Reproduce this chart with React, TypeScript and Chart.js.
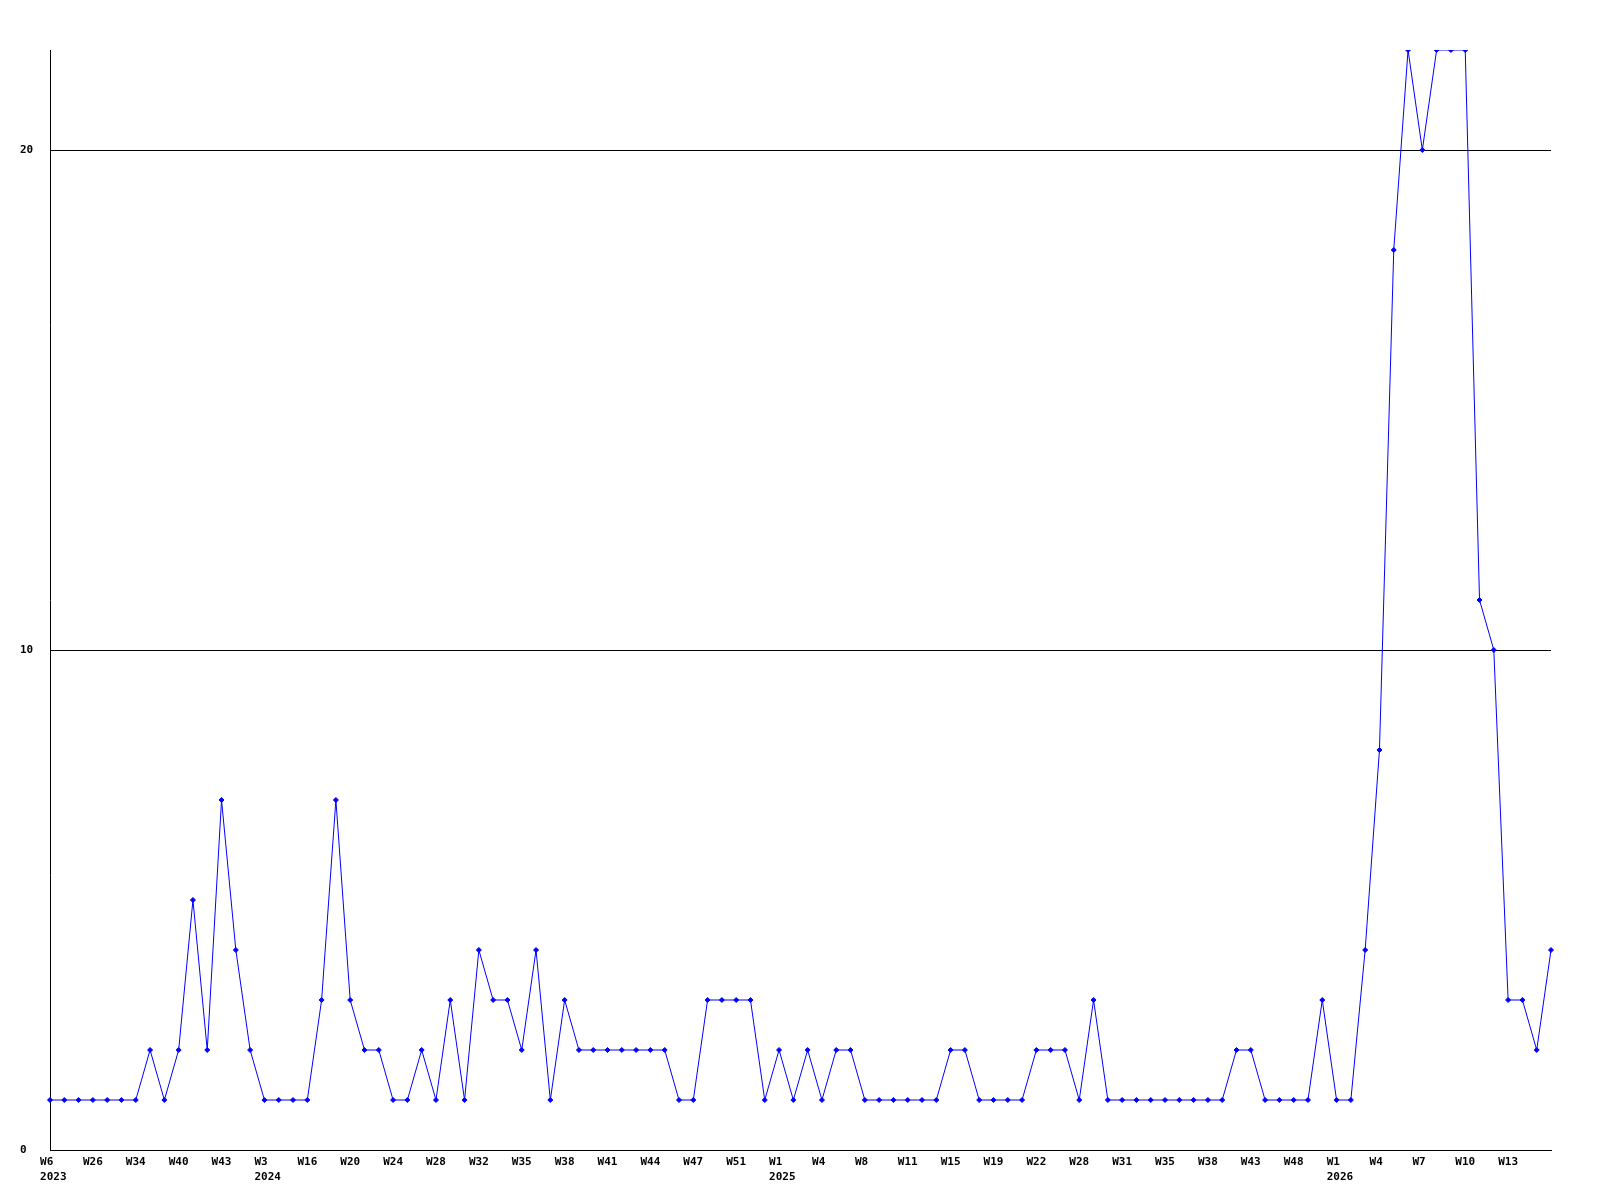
import React, { useEffect, useRef } from 'react';
import { Chart, registerables } from 'chart.js';

Chart.register(...registerables);

// Weekly counts, one per point (106 points)
const weeklyCounts = [
  1, 1, 1, 1, 1, 1, 1, 2, 1, 2,
  5, 2, 7, 4, 2, 1, 1, 1, 1, 3,
  7, 3, 2, 2, 1, 1, 2, 1, 3, 1,
  4, 3, 3, 2, 4, 1, 3, 2, 2, 2,
  2, 2, 2, 2, 1, 1, 3, 3, 3, 3,
  1, 2, 1, 2, 1, 2, 2, 1, 1, 1,
  1, 1, 1, 2, 2, 1, 1, 1, 1, 2,
  2, 2, 1, 3, 1, 1, 1, 1, 1, 1,
  1, 1, 1, 2, 2, 1, 1, 1, 1, 3,
  1, 1, 4, 8, 18, 22, 20, 22, 22, 22,
  11, 10, 3, 3, 2, 4,
];

// Tick labels shown on every 3rd point
const TICK_EVERY = 3;
const tickWeeks = [
  'W6', 'W26', 'W34', 'W40', 'W43', 'W3', 'W16', 'W20', 'W24', 'W28',
  'W32', 'W35', 'W38', 'W41', 'W44', 'W47', 'W51', 'W1', 'W4', 'W8',
  'W11', 'W15', 'W19', 'W22', 'W28', 'W31', 'W35', 'W38', 'W43', 'W48',
  'W1', 'W4', 'W7', 'W10', 'W13',
];
const tickYears = [
  '2023', '', '', '', '', '2024', '', '', '', '',
  '', '', '', '', '', '', '', '2025', '', '',
  '', '', '', '', '', '', '', '', '', '',
  '2026', '', '', '', '',
];

const Y_MAX = 22;
const Y_STEP = 10;

const tickFont = {
  family: '"DejaVu Sans Mono", "Liberation Mono", monospace',
  weight: 'bold' as const,
  size: 11,
  lineHeight: '15px',
};

export default function App() {
  const ref = useRef<HTMLCanvasElement>(null);

  useEffect(() => {
    if (!ref.current) return;
    const chart = new Chart(ref.current, {
      type: 'line',
      data: {
        labels: weeklyCounts.map((_, i) => String(i)),
        datasets: [
          {
            data: weeklyCounts,
            borderColor: '#0000ff',
            borderWidth: 1,
            backgroundColor: '#0000ff',
            pointStyle: 'rectRot',
            pointRadius: 2.5,
            pointBackgroundColor: '#0000ff',
            pointBorderColor: '#0000ff',
            pointBorderWidth: 1,
            tension: 0,
            fill: false,
          },
        ],
      },
      options: {
        animation: false,
        responsive: false,
        maintainAspectRatio: false,
        layout: { padding: { left: 20, top: 50, right: 49, bottom: 0 } },
        plugins: {
          legend: { display: false },
          tooltip: { enabled: false },
        },
        scales: {
          x: {
            type: 'category',
            offset: false,
            grid: { display: false, drawTicks: false },
            border: { display: true, color: '#000000', width: 1 },
            ticks: {
              autoSkip: false,
              maxRotation: 0,
              minRotation: 0,
              padding: 5,
              color: '#000000',
              font: tickFont,
              callback: (_v: any, index: number) => {
                if (index % TICK_EVERY !== 0) return '';
                const k = index / TICK_EVERY;
                const w = (tickWeeks[k] || '').padEnd(3, ' ');
                const y = tickYears[k];
                return y ? [w, ' ' + y] : w;
              },
            },
            afterFit: (s: any) => {
              s.height = 50;
            },
          },
          y: {
            min: 0,
            max: Y_MAX,
            grid: { color: '#000000', lineWidth: 1, drawTicks: false },
            border: { display: true, color: '#000000', width: 1 },
            ticks: {
              stepSize: Y_STEP,
              includeBounds: false,
              crossAlign: 'far',
              padding: 0,
              color: '#000000',
              font: tickFont,
            },
            afterFit: (s: any) => {
              s.width = 30;
            },
          },
        },
      },
    });
    return () => chart.destroy();
  }, []);

  return (
    <div
      style={{
        position: 'absolute',
        left: 0,
        top: 0,
        width: 1600,
        height: 1200,
        background: '#ffffff',
      }}
    >
      <canvas
        ref={ref}
        width={1600}
        height={1200}
        style={{ width: 1600, height: 1200, display: 'block' }}
      />
    </div>
  );
}
